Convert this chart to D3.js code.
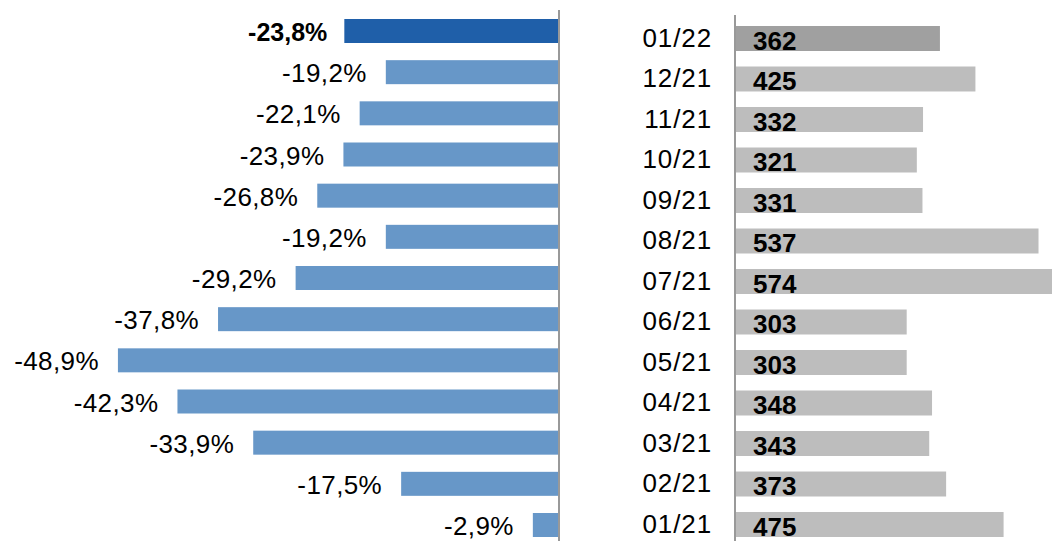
<!DOCTYPE html>
<html lang="en">
<head>
  <meta charset="utf-8" />
  <title>Variation et volumes mensuels</title>
  <style>
    body {
      margin: 0;
      background: #fff;
      font-family: "Liberation Sans", Arial, sans-serif;
    }
    svg { display: block; }
    .pct { font-size: 26px; letter-spacing: 0.4px; fill: #000; }
    .pct.current { font-size: 25px; font-weight: 700; letter-spacing: 0; }
    .month { font-size: 26px; letter-spacing: 0.9px; fill: #000; }
    .count { font-size: 26px; font-weight: 700; fill: #000; }
  </style>
</head>
<body>
  <div id="graphic"></div>

  <script src="https://cdnjs.cloudflare.com/ajax/libs/d3/7.8.5/d3.min.js"></script>
  <script>
    // data, most recent month first
    var months = ["01/22", "12/21", "11/21", "10/21", "09/21", "08/21", "07/21",
                  "06/21", "05/21", "04/21", "03/21", "02/21", "01/21"];
    var pctChange = [-23.8, -19.2, -22.1, -23.9, -26.8, -19.2, -29.2,
                     -37.8, -48.9, -42.3, -33.9, -17.5, -2.9];
    var counts = [362, 425, 332, 321, 331, 537, 574, 303, 303, 348, 343, 373, 475];

    var width = 1052, height = 541;

    var svg = d3.select("#graphic").append("svg")
      .attr("width", width)
      .attr("height", height);

    var rows = months.map(function(m, i) {
      return { month: m, pct: pctChange[i], count: counts[i], current: i === 0 };
    });

    // french style: comma decimal, plain hyphen for the minus
    var locale = d3.formatLocale({ decimal: ",", thousands: " ", grouping: [3], currency: ["", " €"], minus: "-" });
    var fmtPct = function(v) { return locale.format(".1f")(v) + "%"; };

    // ---- left panel: % change
    var yL = d3.scaleBand()
      .domain(months)
      .range([19, 537])
      .paddingInner(0.417)
      .paddingOuter(0);

    var xL = d3.scaleLinear()
      .domain([-50, 0])
      .range([108, 559]);

    svg.append("g").selectAll("rect")
      .data(rows)
      .enter().append("rect")
      .attr("x", function(d) { return xL(d.pct); })
      .attr("y", function(d) { return yL(d.month); })
      .attr("width", function(d) { return xL(0) - xL(d.pct); })
      .attr("height", yL.bandwidth())
      .attr("fill", function(d) { return d.current ? "#1f5fa9" : "#6797c8"; });

    svg.append("g").selectAll("text")
      .data(rows)
      .enter().append("text")
      .attr("class", function(d) { return d.current ? "pct current" : "pct"; })
      .attr("x", function(d) { return xL(d.pct) - (d.current ? 17 : 19); })
      .attr("y", function(d) { return yL(d.month) + yL.bandwidth() - 2; })
      .attr("text-anchor", "end")
      .text(function(d) { return fmtPct(d.pct); });

    svg.append("line")
      .attr("x1", xL(0)).attr("x2", xL(0))
      .attr("y1", 10).attr("y2", height)
      .attr("stroke", "#999").attr("stroke-width", 2);

    // ---- right panel: monthly counts
    var yR = d3.scaleBand()
      .domain(months)
      .range([26, 537])
      .paddingInner(0.383)
      .paddingOuter(0);

    var xR = d3.scaleLinear()
      .domain([0, 600])
      .range([736, 1074]);

    svg.append("g").selectAll("rect")
      .data(rows)
      .enter().append("rect")
      .attr("x", xR(0))
      .attr("y", function(d) { return yR(d.month); })
      .attr("width", function(d) { return xR(d.count) - xR(0); })
      .attr("height", yR.bandwidth())
      .attr("fill", function(d) { return d.current ? "#a0a0a0" : "#bdbdbd"; });

    svg.append("g").selectAll("text")
      .data(rows)
      .enter().append("text")
      .attr("class", "month")
      .attr("x", 712)
      .attr("y", function(d) { return yR(d.month) + yR.bandwidth() - 4; })
      .attr("text-anchor", "end")
      .text(function(d) { return d.month; });

    svg.append("g").selectAll("text")
      .data(rows)
      .enter().append("text")
      .attr("class", "count")
      .attr("x", 753)
      .attr("y", function(d) { return yR(d.month) + yR.bandwidth() - 1; })
      .text(function(d) { return d.count; });

    svg.append("line")
      .attr("x1", 735).attr("x2", 735)
      .attr("y1", 15).attr("y2", height)
      .attr("stroke", "#999").attr("stroke-width", 2);
  </script>
</body>
</html>
